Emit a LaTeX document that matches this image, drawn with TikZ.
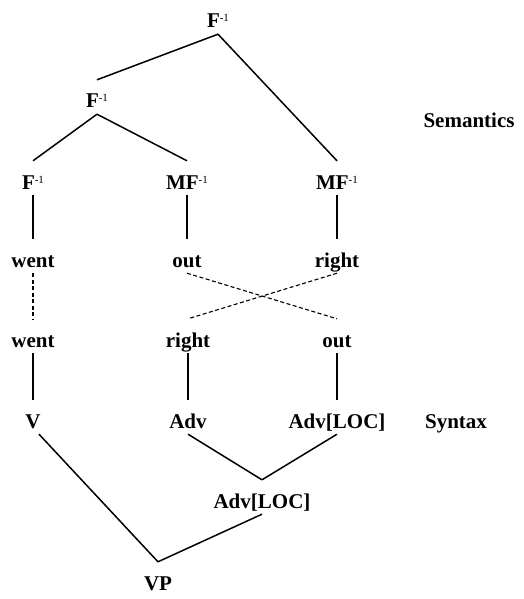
\documentclass[tikz,border=0pt]{standalone}
\usepackage{fontspec}
\setmainfont{Liberation Serif}
\usetikzlibrary{arrows}
\newcommand{\inv}{\raisebox{6pt}{\fontsize{11}{12}\selectfont\mdseries -1}}

\begin{document}
\begin{tikzpicture}[x=1pt,y=-1pt]
          \tikzstyle{Label}=[anchor=base,inner sep=2pt,text height=26pt,text depth=4pt,
            font=\fontsize{21}{24}\selectfont\bfseries]
          \tikzstyle{EdgeStyle}=[line width=1.5pt]
          \tikzstyle{LinkStyle}=[line width=1.1pt,dash pattern=on 4pt off 2.5pt]
          \useasboundingbox (0,0) rectangle (524,599);
          % semantics
          \node[Label] (f0) at (218,28) {F\inv};
          \node[Label] (f1) at (97,108) {F\inv};
          \node[Label] (f2) at (33,189) {F\inv};
          \node[Label] (mf1) at (187,189) {MF\inv};
          \node[Label] (mf2) at (337,189) {MF\inv};
          \node[Label] (went1) at (33,267) {went};
          \node[Label] (out1) at (187,267) {out};
          \node[Label] (right1) at (337,267) {right};
          % syntax
          \node[Label] (went2) at (33,347) {went};
          \node[Label] (right2) at (188,347) {right};
          \node[Label] (out2) at (337,347) {out};
          \node[Label] (v) at (33,428) {V};
          \node[Label] (adv) at (188,428) {Adv};
          \node[Label] (advloc1) at (337,428) {Adv[LOC]};
          \node[Label] (advloc2) at (262,508) {Adv[LOC]};
          \node[Label] (vp) at (158,590) {VP};
          % side labels
          \node[Label] (sem) at (469,128) {Semantics};
          \node[Label] (syn) at (456,428) {Syntax};
          % tree edges
          \draw[EdgeStyle] (f0.south) -- (f1.north);
          \draw[EdgeStyle] (f0.south) -- (mf2.north);
          \draw[EdgeStyle] (f1.south) -- (f2.north);
          \draw[EdgeStyle] (f1.south) -- (mf1.north);
          \draw[EdgeStyle] (f2.south) -- (went1.north);
          \draw[EdgeStyle] (mf1.south) -- (out1.north);
          \draw[EdgeStyle] (mf2.south) -- (right1.north);
          \draw[EdgeStyle] (went2.south) -- (v.north);
          \draw[EdgeStyle] (right2.south) -- (adv.north);
          \draw[EdgeStyle] (out2.south) -- (advloc1.north);
          \draw[EdgeStyle] (adv.south) -- (advloc2.north);
          \draw[EdgeStyle] (advloc1.south) -- (advloc2.north);
          \draw[EdgeStyle] ([xshift=6pt]v.south) -- (vp.north);
          \draw[EdgeStyle] (advloc2.south) -- (vp.north);
          % links
          \draw[LinkStyle] (went1.south) -- (went2.north);
          \draw[LinkStyle] (out1.south) -- (out2.north);
          \draw[LinkStyle] (right1.south) -- (right2.north);
\end{tikzpicture}
\end{document}
